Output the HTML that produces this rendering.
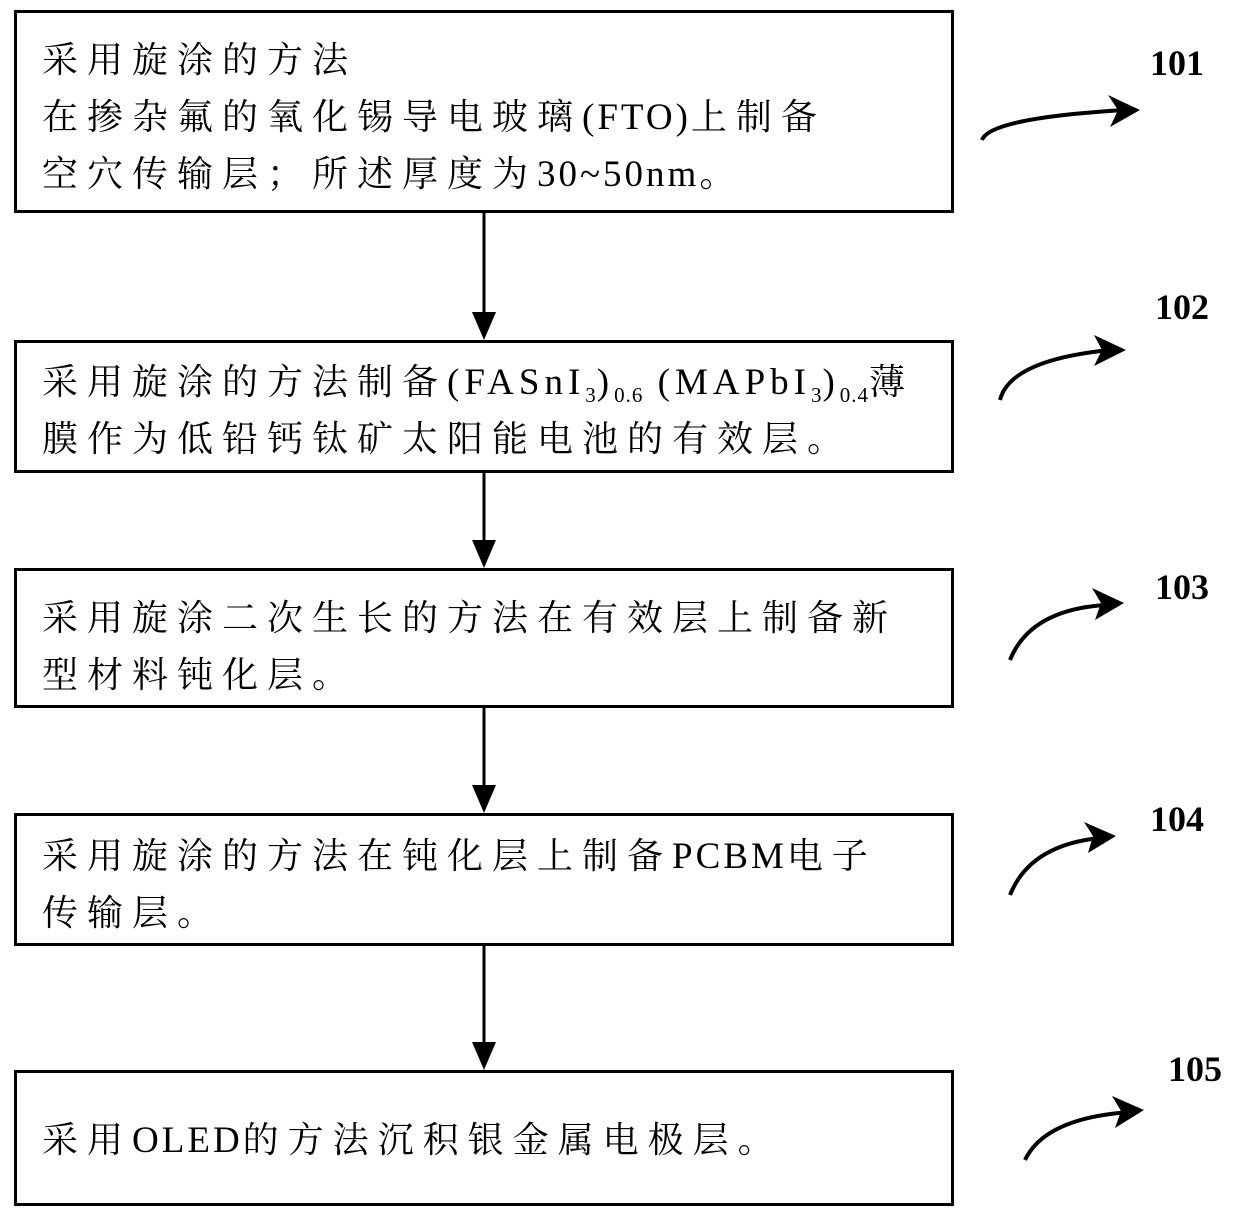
<!DOCTYPE html>
<html><head><meta charset="utf-8"><style>
html,body{margin:0;padding:0;background:#fff;}
body{width:1240px;height:1214px;position:relative;overflow:hidden;font-family:"Liberation Serif","Noto Serif CJK SC",serif;color:#000;}
.box{position:absolute;left:14px;width:934px;border:3px solid #000;box-sizing:content-box;}
.t{position:absolute;left:42px;font-size:36px;line-height:57px;white-space:nowrap;letter-spacing:9px;}
.l{letter-spacing:3px;font-size:37px;}
.lbl{position:absolute;font-size:36px;font-weight:bold;font-family:"Liberation Serif",serif;}
sub{font-size:21px;vertical-align:-8px;line-height:0;letter-spacing:1px;}
</style></head><body>
<div class="box" style="top:10px;height:197px"></div>
<div class="t" style="top:32px">采用旋涂的方法<br>在掺杂氟的氧化锡导电玻璃<span class="l">(FTO)</span>上制备<br>空穴传输层；所述厚度为<span class="l">30~50nm</span>。</div>
<div class="box" style="top:340px;height:127px"></div>
<div class="t" style="top:354px;letter-spacing:9px">采用旋涂的方法制备<span class="l" style="letter-spacing:5px">(FASnI<sub>3</sub>)<sub>0.6</sub> (MAPbI<sub>3</sub>)<sub>0.4</sub></span>薄<br>膜作为低铅钙钛矿太阳能电池的有效层。</div>
<div class="box" style="top:568px;height:134px"></div>
<div class="t" style="top:590px">采用旋涂二次生长的方法在有效层上制备新<br>型材料钝化层。</div>
<div class="box" style="top:813px;height:127px"></div>
<div class="t" style="top:828px">采用旋涂的方法在钝化层上制备<span class="l">PCBM</span>电子<br>传输层。</div>
<div class="box" style="top:1070px;height:130px"></div>
<div class="t" style="top:1112px">采用<span class="l">OLED</span>的方法沉积银金属电极层。</div>
<div class="lbl" style="left:1150px;top:42px">101</div>
<div class="lbl" style="left:1155px;top:286px">102</div>
<div class="lbl" style="left:1155px;top:566px">103</div>
<div class="lbl" style="left:1150px;top:798px">104</div>
<div class="lbl" style="left:1168px;top:1048px">105</div>
<svg width="1240" height="1214" style="position:absolute;left:0;top:0">
<g stroke="#000" stroke-width="3" fill="none">
<line x1="484" y1="212" x2="484" y2="318"/>
<line x1="484" y1="470" x2="484" y2="546"/>
<line x1="484" y1="705" x2="484" y2="791"/>
<line x1="484" y1="943" x2="484" y2="1048"/>
</g>
<g fill="#000">
<path d="M472,312 L484,340 L496,312 Z"/>
<path d="M472,540 L484,568 L496,540 Z"/>
<path d="M472,785 L484,813 L496,785 Z"/>
<path d="M472,1042 L484,1070 L496,1042 Z"/>
</g>
<g stroke="#000" stroke-width="4" fill="none">
<path d="M982,140 Q990,118 1125,110"/>
<path d="M1000,400 Q1010,360 1110,350"/>
<path d="M1010,660 Q1030,610 1105,605"/>
<path d="M1010,895 Q1030,845 1100,838"/>
<path d="M1025,1160 Q1045,1118 1130,1112"/>
</g>
<g fill="#000">
<path d="M1108,95 L1140,110 L1110,127 L1118,110 Z"/>
<path d="M1094,335 L1126,350 L1094,366 L1102,350 Z"/>
<path d="M1092,588 L1124,603 L1095,620 L1101,603 Z"/>
<path d="M1084,822 L1116,836 L1088,853 L1093,836 Z"/>
<path d="M1112,1096 L1144,1110 L1115,1128 L1121,1111 Z"/>
</g>
</svg>
</body></html>
